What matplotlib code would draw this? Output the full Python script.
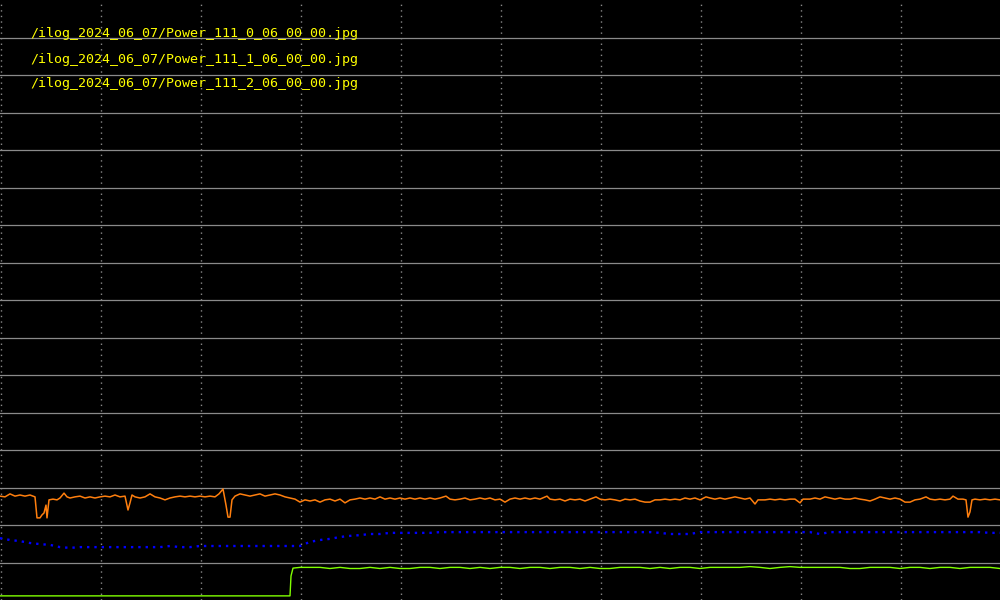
import numpy as np
import matplotlib
matplotlib.use('Agg')
import matplotlib.pyplot as plt

# file names shown in the top-left legend area
file_names = ['/ilog_2024_06_07/Power_111_0_06_00_00.jpg',
              '/ilog_2024_06_07/Power_111_1_06_00_00.jpg',
              '/ilog_2024_06_07/Power_111_2_06_00_00.jpg']

n_lanes = 16
x_max = 1000

# channel 0 (orange), % of its lane
orange_x = [0, 5, 10, 15, 20, 25, 30, 35, 37, 40, 42, 44, 46, 47, 49, 53, 57, 60, 64, 67,
            70, 75, 80, 85, 90, 95, 100, 105, 110, 115, 120, 125, 128, 130, 132, 135, 140, 145, 150, 155,
            160, 165, 170, 175, 180, 185, 190, 195, 200, 205, 210, 215, 219, 223, 226, 228, 230, 232, 235, 240,
            245, 250, 255, 260, 265, 270, 275, 280, 285, 290, 295, 300, 305, 310, 315, 320, 325, 330, 335, 340,
            345, 350, 355, 360, 365, 370, 375, 380, 385, 390, 395, 400, 405, 410, 415, 420, 425, 430, 435, 440,
            446, 450, 455, 460, 465, 470, 475, 480, 485, 490, 495, 500, 505, 510, 515, 520, 525, 530, 535, 540,
            547, 550, 555, 560, 565, 570, 575, 580, 585, 590, 596, 600, 605, 610, 615, 620, 625, 630, 635, 640,
            645, 650, 655, 660, 665, 670, 675, 680, 685, 690, 695, 700, 706, 710, 715, 720, 725, 730, 735, 740,
            745, 750, 755, 758, 765, 770, 775, 780, 785, 790, 795, 800, 803, 810, 815, 820, 825, 830, 835, 840,
            845, 850, 855, 860, 865, 870, 875, 880, 885, 890, 895, 900, 905, 910, 915, 920, 926, 930, 935, 940,
            945, 950, 953, 958, 963, 966, 968, 970, 972, 975, 980, 985, 990, 995, 1000]
orange_v = [77, 75, 83, 77, 80, 77, 80, 75, 19, 19, 27, 32, 53, 19, 67, 69, 67, 72, 85, 75,
            72, 75, 77, 72, 75, 72, 75, 77, 75, 80, 75, 77, 40, 59, 80, 75, 72, 75, 83, 75,
            72, 67, 72, 75, 77, 75, 77, 75, 77, 75, 77, 75, 83, 96, 53, 21, 21, 67, 77, 83,
            80, 77, 80, 83, 77, 80, 83, 80, 75, 72, 69, 61, 67, 64, 67, 61, 67, 69, 64, 69,
            59, 67, 69, 72, 69, 72, 69, 75, 69, 72, 69, 72, 69, 72, 69, 72, 69, 72, 69, 72,
            77, 69, 67, 69, 72, 67, 69, 72, 69, 72, 67, 69, 61, 69, 72, 69, 72, 69, 72, 69,
            77, 69, 67, 69, 64, 69, 67, 69, 64, 69, 75, 69, 67, 69, 67, 64, 69, 67, 69, 64,
            61, 61, 67, 67, 69, 67, 69, 67, 72, 69, 72, 67, 75, 72, 69, 72, 69, 72, 75, 72,
            69, 72, 56, 67, 67, 69, 67, 69, 67, 69, 69, 59, 69, 69, 72, 69, 75, 72, 69, 72,
            69, 69, 72, 69, 67, 64, 69, 75, 72, 69, 72, 69, 61, 61, 67, 69, 75, 69, 67, 69,
            67, 69, 77, 69, 69, 67, 21, 35, 67, 69, 67, 69, 67, 69, 67]

# channel 1 (blue), sampled every 10
blue_x = np.arange(0, 1001, 10)
blue_v = [65, 60, 57, 52, 49, 47, 41, 39, 41, 41,
          41, 41, 41, 41, 41, 41, 41, 44, 41, 41,
          44, 44, 44, 44, 44, 44, 44, 44, 44, 44,
          44, 55, 60, 63, 68, 71, 73, 76, 76, 79,
          79, 79, 79, 79, 81, 81, 81, 81, 81, 81,
          81, 81, 81, 81, 81, 81, 81, 81, 81, 81,
          81, 81, 81, 81, 81, 81, 79, 76, 76, 76,
          81, 81, 81, 81, 81, 81, 81, 81, 81, 81,
          81, 81, 76, 81, 81, 81, 81, 81, 81, 81,
          81, 81, 81, 81, 81, 81, 81, 81, 81, 79,
          79]

# channel 2 (green)
green_x = [0, 290, 291, 293] + list(range(300, 1001, 10))
green_v = [11, 11, 64, 85,
           87, 87, 87, 84, 87, 84, 84, 87, 84, 87,
           84, 84, 87, 87, 84, 87, 87, 84, 87, 84,
           87, 87, 84, 87, 87, 84, 87, 87, 84, 87,
           84, 84, 87, 87, 87, 84, 87, 84, 87, 87,
           84, 87, 87, 87, 87, 89, 87, 84, 87, 89,
           87, 87, 87, 87, 87, 84, 84, 87, 87, 87,
           84, 87, 87, 84, 87, 87, 84, 87, 87, 87,
           84]

fig = plt.figure(figsize=(10, 6), dpi=100, facecolor='black')
ax = fig.add_axes([0, 0, 1, 1])
ax.set_facecolor('black')
ax.set_xlim(0, x_max)
ax.set_ylim(0, n_lanes)
for s in ax.spines.values():
    s.set_visible(False)
ax.set_xticks([])
ax.set_yticks([])

# lane separators and time grid
for k in range(1, n_lanes):
    ax.axhline(k, color='#8a8a8a', lw=0.9, zorder=1)
for xv in range(0, x_max, 100):
    ax.axvline(xv + 0.5, color='#8a8a8a', lw=1.0, linestyle=(0, (1, 3)), zorder=1)

ax.plot(orange_x, 2 + np.array(orange_v) / 100, color='#ff7f0e', lw=1.1, zorder=3)
ax.plot(blue_x, 1 + np.array(blue_v) / 100, color='#0000ff', lw=1.7, linestyle=(0, (1, 2.1)), zorder=3)
ax.plot(green_x, 0 + np.array(green_v) / 100, color='#80ff00', lw=1.0, zorder=3)

for i, name in enumerate(file_names):
    ax.text(0.03, 1 - (37.5 + 25 * i) / 600, name, transform=ax.transAxes,
            color='#ffff00', fontsize=9.6, family='DejaVu Sans Mono', va='baseline', ha='left')

fig.savefig('out.png', dpi=100, facecolor='black')
